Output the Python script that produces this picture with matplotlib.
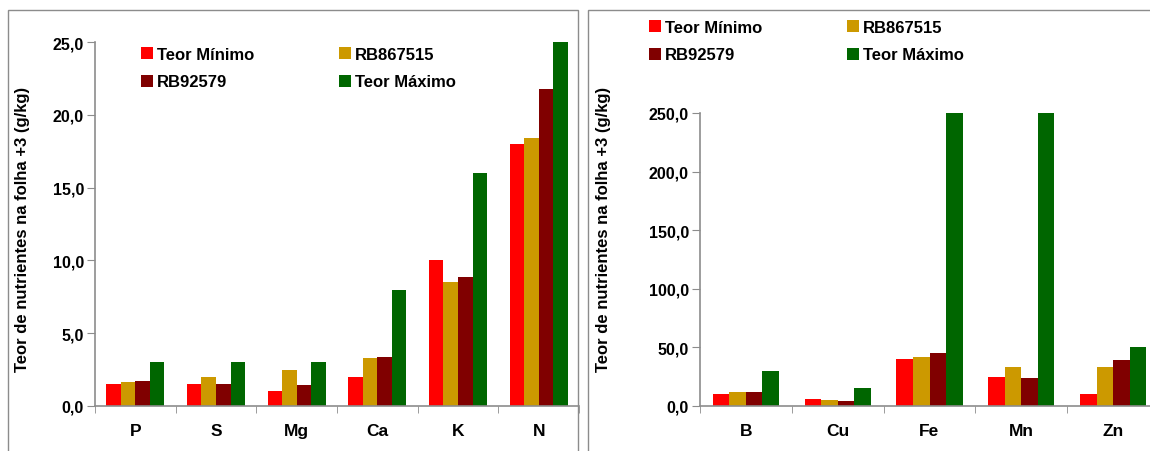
import numpy as np
import matplotlib.pyplot as plt
from matplotlib.patches import Rectangle
from matplotlib.ticker import FuncFormatter, FixedLocator

plt.rcParams['font.family'] = ['Liberation Sans', 'DejaVu Sans']
plt.rcParams['font.weight'] = 'bold'

series = ["Teor Mínimo", "RB867515", "RB92579", "Teor Máximo"]
colors = ["#FF0000", "#CC9900", "#800000", "#006600"]

macro_cats = ["P", "S", "Mg", "Ca", "K", "N"]
macro_min = [1.5, 1.5, 1.0, 2.0, 10.0, 18.0]
macro_rb867515 = [1.65, 2.0, 2.5, 3.3, 8.5, 18.4]
macro_rb92579 = [1.75, 1.5, 1.45, 3.35, 8.85, 21.8]
macro_max = [3.0, 3.0, 3.0, 8.0, 16.0, 25.0]

micro_cats = ["B", "Cu", "Fe", "Mn", "Zn"]
micro_min = [10.0, 6.0, 40.0, 25.0, 10.0]
micro_rb867515 = [12.0, 5.0, 41.5, 33.0, 33.0]
micro_rb92579 = [12.0, 4.5, 45.0, 23.5, 39.0]
micro_max = [30.0, 15.0, 250.0, 250.0, 50.0]

W, H = 1150, 452
fig = plt.figure(figsize=(W / 100, H / 100), dpi=100)

# panel frames (pixels -> figure coords)
def px_rect(x0, y0, x1, y1):
    return Rectangle((x0 / W, 1 - y1 / H), (x1 - x0) / W, (y1 - y0) / H,
                     transform=fig.transFigure, fill=False, edgecolor="#8c8c8c",
                     linewidth=1.0)

fig.patches.append(px_rect(8, 10.5, 578, 460))
fig.patches.append(px_rect(588, 10.5, 1160, 460))

fmt = FuncFormatter(lambda v, p: f"{v:.1f}".replace(".", ","))


def draw(ax, cats, data, ymax, step, leg_anchor, label_x):
    n = len(cats)
    x = np.arange(n)
    bw = 0.18
    handles = []
    for i, (vals, c, lab) in enumerate(zip(data, colors, series)):
        b = ax.bar(x + (i - 1.5) * bw, vals, bw, color=c, label=lab,
                   edgecolor="none", zorder=2)
        handles.append(b)
    ax.set_xlim(-0.5, n - 0.5)
    ax.set_ylim(0, ymax)
    ax.set_yticks(np.arange(0, ymax + step / 2, step))
    ax.yaxis.set_major_formatter(fmt)
    ax.set_xticks(x)
    ax.set_xticklabels(cats, fontsize=12.5, fontweight="bold")
    ax.xaxis.set_minor_locator(FixedLocator(np.arange(-0.5, n, 1.0)))
    ax.tick_params(axis="x", which="major", length=0, pad=12)
    ax.tick_params(axis="x", which="minor", length=5, color="#8c8c8c", direction="out")
    ax.tick_params(axis="y", length=6, color="#8c8c8c", direction="out",
                  labelsize=11.5, pad=2)
    for t in ax.get_yticklabels():
        t.set_fontweight("bold")
    for s in ["top", "right"]:
        ax.spines[s].set_visible(False)
    for s in ["left", "bottom"]:
        ax.spines[s].set_color("#8c8c8c")
        ax.spines[s].set_linewidth(1.2)
    ax.set_ylabel("Teor de nutrientes na folha +3 (g/kg)", fontsize=12,
                  fontweight="bold")
    ax.yaxis.set_label_coords(label_x / W, 1 - 229 / H, transform=fig.transFigure)
    order = [0, 2, 1, 3]
    ax.legend([handles[i] for i in order], [series[i] for i in order], ncol=2,
              loc="upper left", bbox_to_anchor=leg_anchor, bbox_transform=fig.transFigure,
              frameon=False, prop={"weight": "bold", "size": 12},
              handlelength=0.7, handleheight=0.7, handletextpad=0.25,
              columnspacing=5.1, labelspacing=0.75, borderaxespad=0, borderpad=0)


ax1 = fig.add_axes([95 / W, 1 - 407 / H, (579 - 95) / W, (407 - 43) / H])
draw(ax1, macro_cats, [macro_min, macro_rb867515, macro_rb92579, macro_max],
     25, 5, (141 / W, 1 - 48 / H), 30)

ax2 = fig.add_axes([700 / W, 1 - 407 / H, (1159 - 700) / W, (407 - 114) / H])
draw(ax2, micro_cats, [micro_min, micro_rb867515, micro_rb92579, micro_max],
     250, 50, (649 / W, 1 - 21 / H), 611)

fig.savefig("out.png", dpi=100)
